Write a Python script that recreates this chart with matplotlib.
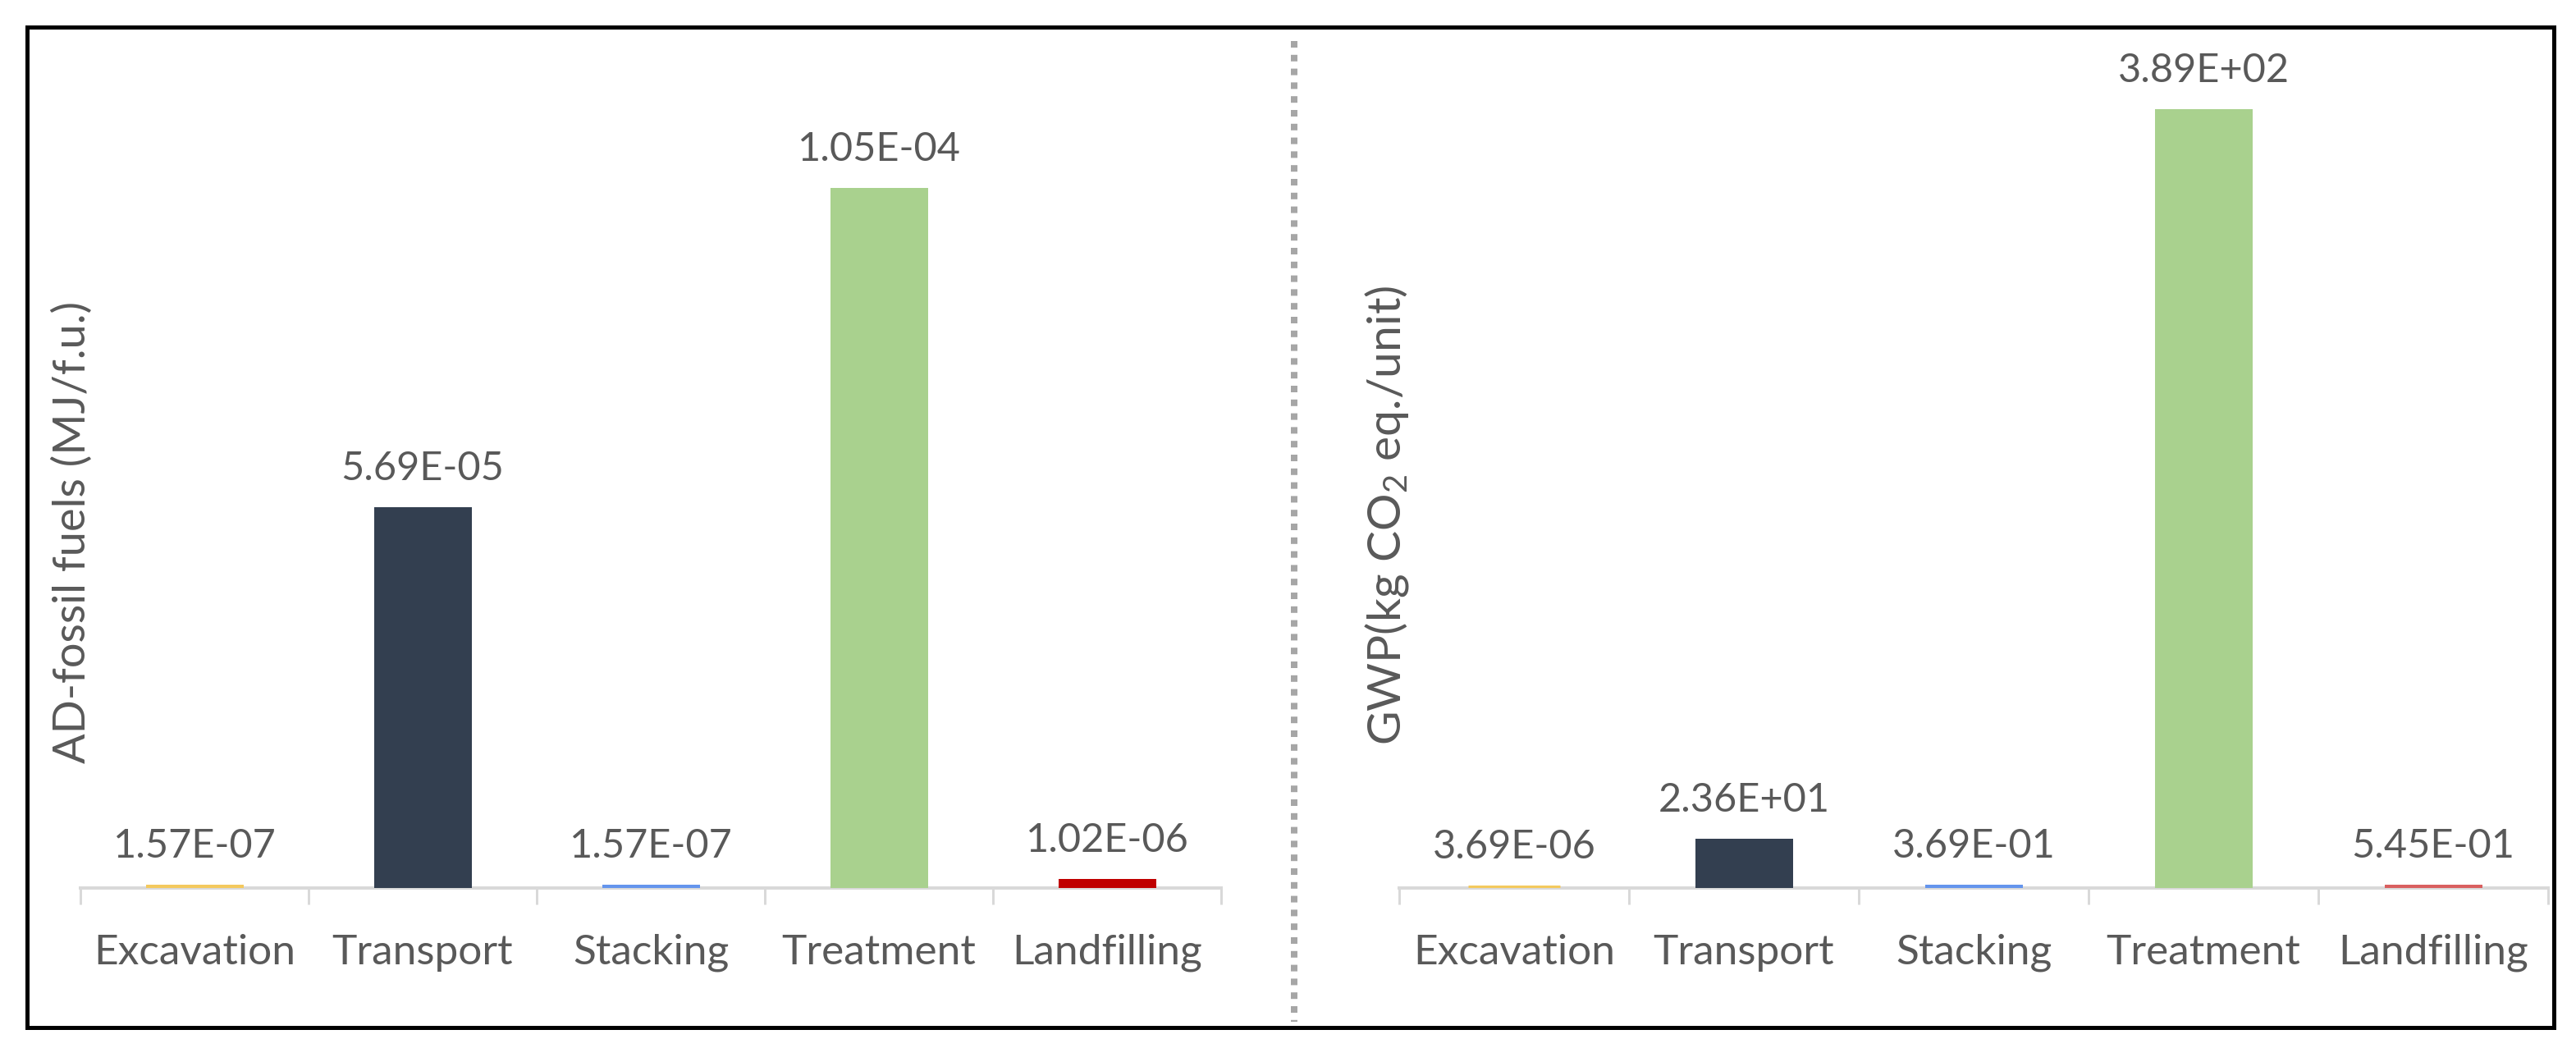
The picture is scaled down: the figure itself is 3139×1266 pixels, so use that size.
import matplotlib

matplotlib.use("Agg")
import matplotlib.pyplot as plt
from matplotlib.lines import Line2D
from matplotlib.patches import Rectangle

plt.rcParams["font.family"] = ["Lato", "DejaVu Sans"]
plt.rcParams["mathtext.fontset"] = "custom"
plt.rcParams["mathtext.rm"] = "Lato"
plt.rcParams["mathtext.default"] = "regular"

# --- data -------------------------------------------------------------
stages = ["Excavation", "Transport", "Stacking", "Treatment", "Landfilling"]
ad_fossil = [1.57e-07, 5.69e-05, 1.57e-07, 1.05e-04, 1.02e-06]
gwp = [3.69e-06, 2.36e01, 3.69e-01, 3.89e02, 5.45e-01]

colors_left = ["#F4C95D", "#333F50", "#6495ED", "#A9D18E", "#C00000"]
colors_right = ["#F4C95D", "#333F50", "#6495ED", "#A9D18E", "#D95F5F"]

left_label = "AD-fossil fuels (MJ/f.u.)"
right_label = "GWP(kg CO$_2$ eq./unit)"

# --- layout (pixels of the 3139 x 1266 output) --------------------------
W, H = 3139, 1266
DPI = 100
TEXT = "#595959"
AXIS = "#D9D9D9"


def px(v):
    """pixels -> points"""
    return v * 72 / DPI


def fx(x):
    return x / W


def fy(y):
    return 1 - y / H


fig = plt.figure(figsize=(W / DPI, H / DPI), dpi=DPI)

base_y = 1082
top_y = 60


def draw_panel(x0, x1, values, colors, top_bar_y):
    ax = fig.add_axes([fx(x0), fy(base_y), fx(x1 - x0), fy(top_y) - fy(base_y)])
    idx = list(range(len(values)))
    ax.bar(idx, values, width=0.40, color=colors, edgecolor=colors,
           linewidth=px(7), zorder=3)
    vmax = max(values)
    ax.set_xlim(-0.5, len(values) - 0.5)
    ax.set_ylim(0, vmax * (base_y - top_y) / (base_y - top_bar_y))
    for s in ("left", "right", "top"):
        ax.spines[s].set_visible(False)
    ax.spines["bottom"].set_color(AXIS)
    ax.spines["bottom"].set_linewidth(px(4))
    ax.set_yticks([])
    ax.set_xticks(idx)
    ax.set_xticklabels(stages, fontsize=37, color=TEXT)
    ax.tick_params(axis="x", which="major", length=0, pad=px(56))
    ax.set_xticks([i - 0.5 for i in range(len(values) + 1)], minor=True)
    ax.tick_params(axis="x", which="minor", length=px(20), width=px(3),
                   color=AXIS, direction="out")
    for i, v in zip(idx, values):
        ax.annotate(f"{v:.2E}", (i, v), xytext=(0, px(36)),
                    textcoords="offset points", ha="center", va="baseline",
                    fontsize=35, color=TEXT)
    return ax


draw_panel(98, 1488, ad_fossil, colors_left, 232)
draw_panel(1705, 3105, gwp, colors_right, 136)

fig.text(fx(88), fy(648), left_label, rotation=90, ha="center", va="center",
         fontsize=39, color=TEXT)
fig.text(fx(1690), fy(628), right_label, rotation=90, ha="center", va="center",
         fontsize=41, color=TEXT)

# frame and dotted divider
fig.add_artist(Rectangle((fx(33), fy(1252)), fx(3112 - 33), fy(33) - fy(1252),
                         transform=fig.transFigure, fill=False,
                         edgecolor="black", linewidth=px(5)))
fig.add_artist(Line2D([fx(1577), fx(1577)], [fy(50), fy(1245)],
                      transform=fig.transFigure, color="#A6A6A6",
                      linewidth=px(8), linestyle=(0, (1, 1.1)),
                      dash_capstyle="butt"))

fig.savefig("out.png", dpi=DPI)
